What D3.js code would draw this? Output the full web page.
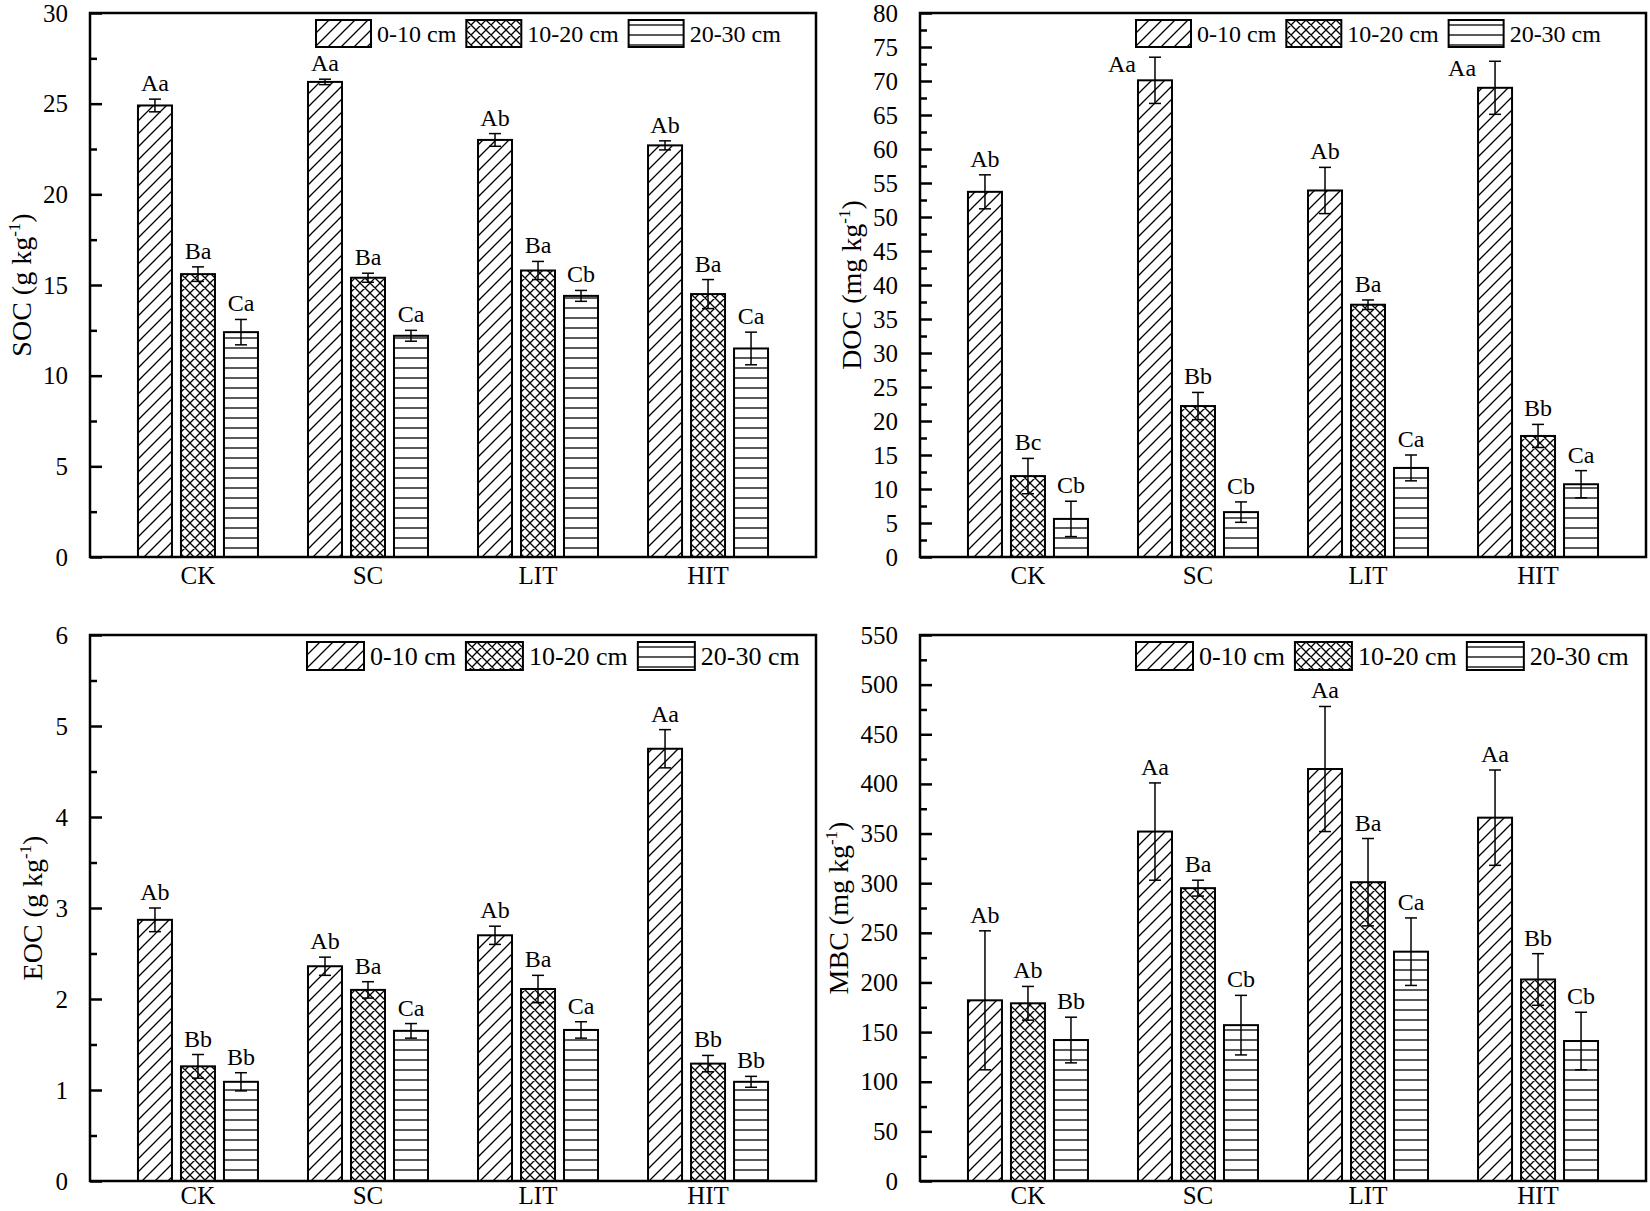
<!DOCTYPE html>
<html>
<head>
<meta charset="utf-8">
<script src="https://cdn.jsdelivr.net/npm/d3@7/dist/d3.min.js"></script>
<style>
  html, body { margin: 0; padding: 0; background: #fff; }
  svg text { font-family: "Liberation Serif", "Times New Roman", serif; fill: #000; }
</style>
</head>
<body>
<svg id="chart" width="1650" height="1211"></svg>
<script>
// ===== Data =====
const groups = ["CK", "SC", "LIT", "HIT"];
const depths = ["0-10 cm", "10-20 cm", "20-30 cm"];

// SOC (g kg-1)
const socMean = [[24.9, 15.6, 12.4], [26.2, 15.4, 12.2], [23.0, 15.8, 14.4], [22.7, 14.5, 11.5]];
const socErr  = [[0.35, 0.4, 0.7], [0.15, 0.25, 0.3], [0.35, 0.5, 0.3], [0.25, 0.8, 0.9]];
const socLab  = [["Aa", "Ba", "Ca"], ["Aa", "Ba", "Ca"], ["Ab", "Ba", "Cb"], ["Ab", "Ba", "Ca"]];

// DOC (mg kg-1)
const docMean = [[53.7, 11.9, 5.6], [70.1, 22.2, 6.6], [53.9, 37.1, 13.1], [69.0, 17.8, 10.7]];
const docErr  = [[2.5, 2.6, 2.6], [3.4, 2.0, 1.5], [3.4, 0.7, 1.9], [3.9, 1.7, 2.0]];
const docLab  = [["Ab", "Bc", "Cb"], ["Aa", "Bb", "Cb"], ["Ab", "Ba", "Ca"], ["Aa", "Bb", "Ca"]];

// EOC (g kg-1)
const eocMean = [[2.87, 1.26, 1.09], [2.36, 2.10, 1.65], [2.70, 2.11, 1.66], [4.75, 1.29, 1.09]];
const eocErr  = [[0.13, 0.13, 0.10], [0.10, 0.09, 0.08], [0.10, 0.15, 0.09], [0.21, 0.09, 0.06]];
const eocLab  = [["Ab", "Bb", "Bb"], ["Ab", "Ba", "Ca"], ["Ab", "Ba", "Ca"], ["Aa", "Bb", "Bb"]];

// MBC (mg kg-1)
const mbcMean = [[182, 179, 142], [352, 295, 157], [415, 301, 231], [366, 203, 141]];
const mbcErr  = [[70, 17, 23], [49, 8, 30], [63, 44, 34], [48, 26, 29]];
const mbcLab  = [["Ab", "Ab", "Bb"], ["Aa", "Ba", "Cb"], ["Aa", "Ba", "Ca"], ["Aa", "Bb", "Cb"]];

// ===== Layout =====
const FONT = 25;
const BAR_W = 34, BAR_STEP = 43;

const panels = [
  { name: "SOC", unit: "g kg", mean: socMean, err: socErr, lab: socLab,
    x0: 90, x1: 816, y0: 13, y1: 557, max: 30, step: 5, legX: 226, legFont: 24, ylabX: 31, catDy: 27 },
  { name: "DOC", unit: "mg kg", mean: docMean, err: docErr, lab: docLab,
    x0: 920, x1: 1646, y0: 13, y1: 557, max: 80, step: 5, legX: 216, legFont: 24, ylabX: 861, catDy: 27 },
  { name: "EOC", unit: "g kg", mean: eocMean, err: eocErr, lab: eocLab,
    x0: 90, x1: 816, y0: 635, y1: 1181, max: 6, step: 1, legX: 217, legFont: 26, ylabX: 42, catDy: 23 },
  { name: "MBC", unit: "mg kg", mean: mbcMean, err: mbcErr, lab: mbcLab,
    x0: 920, x1: 1646, y0: 635, y1: 1181, max: 550, step: 50, legX: 216, legFont: 26, ylabX: 848, catDy: 23 }
];

const svg = d3.select("#chart");

// ===== Patterns =====
const defs = svg.append("defs");
const patDiag = defs.append("pattern").attr("id", "p0")
  .attr("patternUnits", "userSpaceOnUse").attr("width", 13).attr("height", 13);
patDiag.append("rect").attr("width", 13).attr("height", 13).attr("fill", "#fff");
patDiag.append("path").attr("d", "M-2,2 L2,-2 M0,13 L13,0 M11,15 L15,11")
  .attr("stroke", "#000").attr("stroke-width", 1.3);

const patCross = defs.append("pattern").attr("id", "p1")
  .attr("patternUnits", "userSpaceOnUse").attr("width", 10).attr("height", 10);
patCross.append("rect").attr("width", 10).attr("height", 10).attr("fill", "#fff");
patCross.append("path").attr("d", "M0,0 L10,10 M0,10 L10,0 M-1,1 L1,-1 M9,11 L11,9 M-1,9 L1,11 M9,-1 L11,1")
  .attr("stroke", "#000").attr("stroke-width", 1.3);

const patHor = defs.append("pattern").attr("id", "p2")
  .attr("patternUnits", "userSpaceOnUse").attr("width", 10).attr("height", 10);
patHor.append("rect").attr("width", 10).attr("height", 10).attr("fill", "#fff");
patHor.append("path").attr("d", "M0,5 L10,5")
  .attr("stroke", "#000").attr("stroke-width", 1.3);

const fills = ["url(#p0)", "url(#p1)", "url(#p2)"];

panels.forEach(drawPanel);

function drawPanel(P) {
  const w = P.x1 - P.x0, h = P.y1 - P.y0;
  const g = svg.append("g").attr("transform", `translate(${P.x0},${P.y0})`);

  const x = d3.scalePoint().domain(groups).range([0, w]).padding(0.635);
  const y = d3.scaleLinear().domain([0, P.max]).range([h, 0]);

  // legend
  const leg = g.append("g").attr("transform", `translate(${P.legX}, 7)`);
  const sw = P.legFont === 24 ? 55 : 57, sh = P.legFont === 24 ? 27 : 28;
  let lx = 0;
  depths.forEach((d, i) => {
    leg.append("rect").attr("x", lx).attr("y", 0).attr("width", sw).attr("height", sh)
      .attr("fill", fills[i]).attr("stroke", "#000").attr("stroke-width", 2);
    const t = leg.append("text").attr("x", lx + sw + 6).attr("y", sh / 2)
      .attr("dy", "0.35em").attr("font-size", P.legFont).text(d);
    lx += sw + 6 + t.node().getComputedTextLength() + 10;
  });
  const legLeft = P.legX, legBottom = 7 + sh;

  // bars
  const rows = [];
  groups.forEach((grp, gi) => depths.forEach((dep, di) => rows.push({
    grp, di, v: P.mean[gi][di], e: P.err[gi][di], lab: P.lab[gi][di]
  })));

  const cx = d => x(d.grp) + (d.di - 1) * BAR_STEP;

  g.selectAll("rect.bar").data(rows).join("rect").attr("class", "bar")
    .attr("x", d => cx(d) - BAR_W / 2).attr("width", BAR_W)
    .attr("y", d => y(d.v)).attr("height", d => h - y(d.v))
    .attr("fill", d => fills[d.di]).attr("stroke", "#000").attr("stroke-width", 2);

  // error bars
  const eb = g.selectAll("g.err").data(rows).join("g").attr("class", "err")
    .attr("stroke", "#000").attr("stroke-width", 1.5);
  eb.append("line").attr("x1", cx).attr("x2", cx)
    .attr("y1", d => y(d.v + d.e)).attr("y2", d => y(d.v - d.e));
  eb.append("line").attr("x1", d => cx(d) - 6).attr("x2", d => cx(d) + 6)
    .attr("y1", d => y(d.v + d.e)).attr("y2", d => y(d.v + d.e));
  eb.append("line").attr("x1", d => cx(d) - 6).attr("x2", d => cx(d) + 6)
    .attr("y1", d => y(d.v - d.e)).attr("y2", d => y(d.v - d.e));

  // significance letters (moved to the left when they would hit the legend)
  g.selectAll("text.sig").data(rows).join("text").attr("class", "sig")
    .attr("font-size", 24)
    .each(function (d) {
      const top = y(d.v + d.e);
      const clash = top - 8 - 18 < legBottom && cx(d) + 15 > legLeft;
      d3.select(this)
        .attr("x", clash ? cx(d) - BAR_W / 2 - 2 : cx(d))
        .attr("y", clash ? top + 15 : top - 8)
        .attr("text-anchor", clash ? "end" : "middle")
        .text(d.lab);
    });

  // axes
  const major = d3.range(0, P.max + P.step / 2, P.step);
  const minor = d3.range(P.step / 2, P.max, P.step);
  const ax = g.append("g")
    .call(d3.axisLeft(y).tickValues(major).tickSize(-12).tickPadding(22).tickFormat(d3.format("d")));
  ax.select(".domain").remove();
  ax.selectAll("line").attr("stroke-width", 2.5);
  ax.selectAll("text").attr("font-size", FONT).attr("font-family", "Liberation Serif, Times New Roman, serif");
  const axm = g.append("g")
    .call(d3.axisLeft(y).tickValues(minor).tickSize(-7).tickFormat(""));
  axm.select(".domain").remove();
  axm.selectAll("line").attr("stroke-width", 2.5);

  // frame
  g.append("rect").attr("width", w).attr("height", h)
    .attr("fill", "none").attr("stroke", "#000").attr("stroke-width", 2.5);

  // category labels
  g.selectAll("text.cat").data(groups).join("text").attr("class", "cat")
    .attr("x", d => x(d)).attr("y", h + P.catDy).attr("text-anchor", "middle")
    .attr("font-size", FONT).text(d => d);

  // y label
  const yl = svg.append("text")
    .attr("transform", `translate(${P.ylabX}, ${(P.y0 + P.y1) / 2}) rotate(-90)`)
    .attr("text-anchor", "middle").attr("font-size", 28);
  yl.append("tspan").text(`${P.name} (${P.unit}`);
  yl.append("tspan").attr("dy", -11).attr("font-size", 17).text("-1");
  yl.append("tspan").attr("dy", 11).text(")");
}
</script>
</body>
</html>
